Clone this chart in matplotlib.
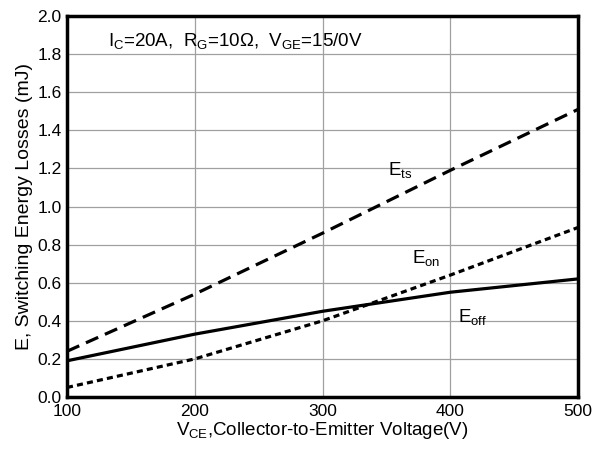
import numpy as np
import matplotlib
matplotlib.use("Agg")
import matplotlib.pyplot as plt

plt.rcParams['font.family'] = ['Liberation Sans', 'DejaVu Sans']
plt.rcParams['mathtext.fontset'] = 'custom'
plt.rcParams['mathtext.rm'] = 'Liberation Sans'
plt.rcParams['mathtext.it'] = 'Liberation Sans'
plt.rcParams['mathtext.bf'] = 'Liberation Sans:bold'

# data
vce = [100, 200, 300, 400, 500]
e_ts = [0.24, 0.54, 0.86, 1.19, 1.51]
e_on = [0.05, 0.20, 0.40, 0.64, 0.89]
e_off = [0.19, 0.33, 0.45, 0.55, 0.62]

xticks = [100, 200, 300, 400, 500]
yticks = [0.0, 0.2, 0.4, 0.6, 0.8, 1.0, 1.2, 1.4, 1.6, 1.8, 2.0]

fig = plt.figure(figsize=(5.96, 4.53), dpi=100)
ax = fig.add_axes([0.1124, 0.1236, 0.8576, 0.8411])

ax.plot(vce, e_ts, color='black', lw=2.3, linestyle=(0, (4.2, 2.3)))
ax.plot(vce, e_on, color='black', lw=2.3, linestyle=(0, (1.9, 1.3)))
ax.plot(vce, e_off, color='black', lw=2.3, linestyle='-')

ax.set_xlim(100, 500)
ax.set_ylim(0, 2.0)
ax.set_xticks(xticks)
ax.set_yticks(yticks)
ax.set_yticklabels([f"{v:.1f}" for v in yticks])
ax.tick_params(length=0, labelsize=12.5)
ax.tick_params(axis='x', pad=5)
ax.tick_params(axis='y', pad=4)
ax.grid(True, color='#a0a0a0', lw=0.9)
for s in ax.spines.values():
    s.set_linewidth(2.5)

ax.set_xlabel("$V_{CE}$,Collector-to-Emitter Voltage(V)", fontsize=13.5, labelpad=1)
ax.set_ylabel("E, Switching Energy Losses (mJ)", fontsize=14, labelpad=3)

ax.text(132, 1.87, "$I_C$=20A,  $R_G$=10Ω,  $V_{GE}$=15/0V", fontsize=13.5, va='center')
ax.text(351, 1.19, "$E_{ts}$", fontsize=13.5, va='center')
ax.text(370, 0.73, "$E_{on}$", fontsize=13.5, va='center')
ax.text(406, 0.42, "$E_{off}$", fontsize=13.5, va='center')

fig.savefig("out.png", dpi=100)
